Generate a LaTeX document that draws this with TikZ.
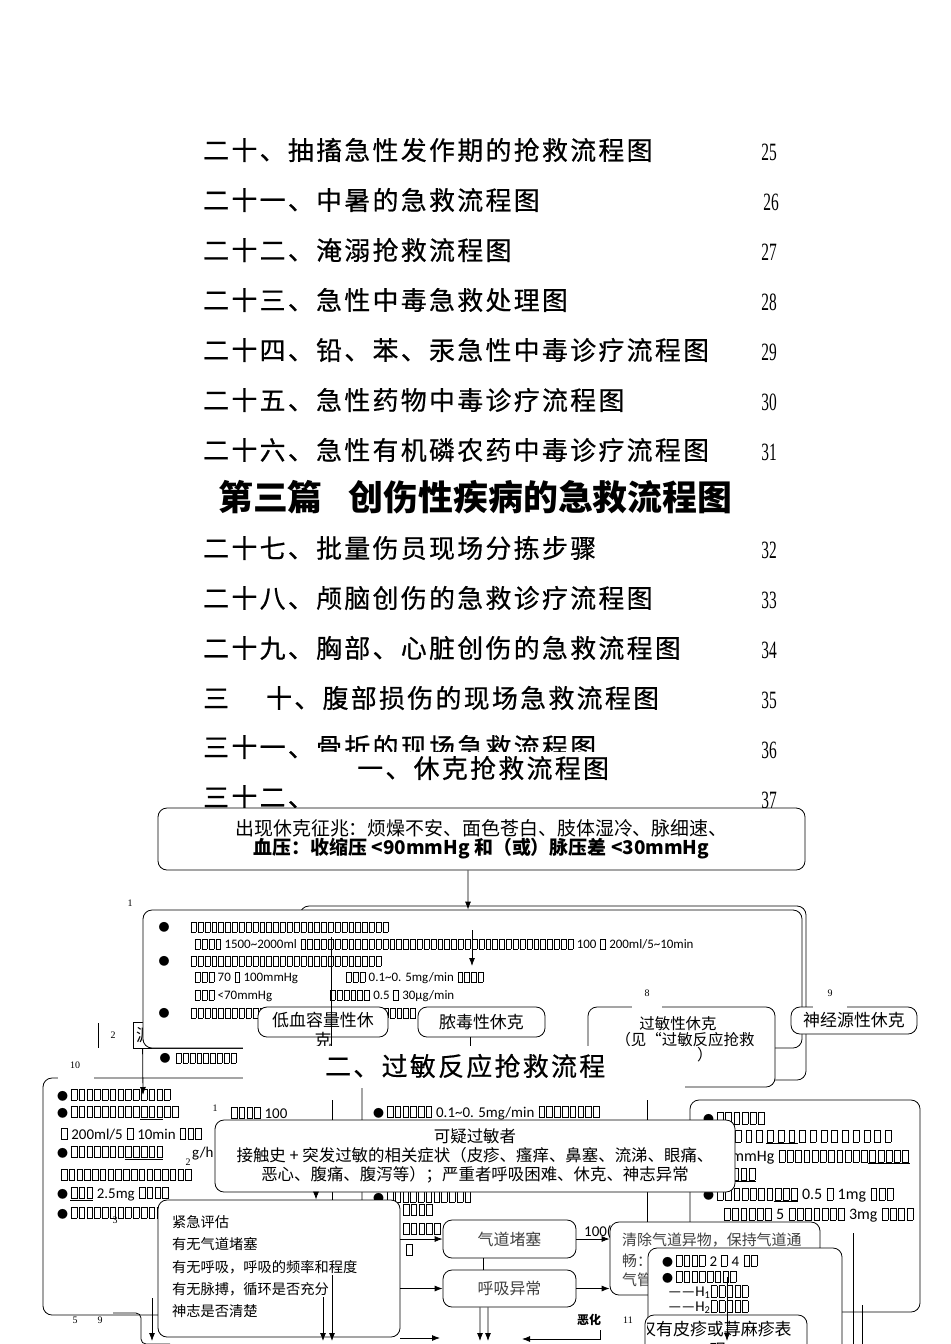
\documentclass[tikz,border=0pt]{standalone}
\usepackage{fontspec}
\setmainfont{Noto Sans CJK SC}
\newfontfamily\cjk{Noto Sans CJK SC}
\newfontfamily\tocfont[LetterSpace=9,FakeBold=0.6]{Noto Sans CJK SC}
\newfontfamily\numfont[FakeStretch=0.62]{Liberation Serif}
\newfontfamily\latfont{Carlito}
\newfontfamily\lblfont{Liberation Serif}
\usetikzlibrary{arrows.meta}
\setlength\fboxsep{0pt}
\setlength\fboxrule{0.45pt}
% missing glyph boxes
\newcommand\tofu{\kern0.06em\fbox{\rule{0pt}{0.72em}\rule{0.34em}{0pt}}\kern0.06em}
\newcommand\tf[1]{\foreach \tfk in {1,...,#1}{\tofu}}
\newcommand\tfsp[1]{\foreach \tfk in {1,...,#1}{\tofu\hspace{2.5bp}}}
\newcommand\bul{{\cjk\fontsize{11}{11}\selectfont ●}\kern2bp}

\begin{document}
\begin{tikzpicture}[x=1bp, y=-1bp, >={Latex[length=8bp,width=6bp]},
  toc/.style={anchor=west, inner sep=0, font=\tocfont\fontsize{26}{30}\selectfont},
  pnum/.style={inner sep=0, font=\numfont\fontsize{25}{28}\selectfont},
  rbox/.style={draw, fill=white, rounded corners=9bp, line width=0.8bp, inner sep=0},
  tline/.style={anchor=west, inner sep=0, font=\latfont\fontsize{13}{15}\selectfont},
  bline/.style={anchor=west, inner sep=0, font=\latfont\fontsize{15}{17}\selectfont},
  oline/.style={anchor=west, inner sep=0, font=\latfont\fontsize{16}{18}\selectfont},
  cjtext/.style={inner sep=0, font=\fontsize{17}{17}\selectfont},
  dot/.style={inner sep=0, font=\cjk\fontsize{11}{11}\selectfont},
  lbl/.style={inner sep=0, font=\lblfont\fontsize{10}{12}\selectfont},
  gapfill/.style={fill=white, inner sep=0},
  link/.style={line width=0.8bp},
  flow/.style={link, ->}]

\useasboundingbox (0,0) rectangle (950,1344);

% contents
\node[toc] (t20) at (203,150) {二十、抽搐急性发作期的抢救流程图};
\node[toc] (t21) at (203,200) {二十一、中暑的急救流程图};
\node[toc] (t22) at (203,250) {二十二、淹溺抢救流程图};
\node[toc] (t23) at (203,300) {二十三、急性中毒急救处理图};
\node[toc] (t24) at (203,350) {二十四、铅、苯、汞急性中毒诊疗流程图};
\node[toc] (t25) at (203,400) {二十五、急性药物中毒诊疗流程图};
\node[toc] (t26) at (203,450) {二十六、急性有机磷农药中毒诊疗流程图};
\node[anchor=west, inner sep=0, font=\bfseries\fontsize{35}{38}\selectfont] (part3) at (218,497) {第三篇\hspace{26bp}创伤性疾病的急救流程图};
\node[toc] (t27) at (203,548) {二十七、批量伤员现场分拣步骤};
\node[toc] (t28) at (203,598) {二十八、颅脑创伤的急救诊疗流程图};
\node[toc] (t29) at (203,648) {二十九、胸部、心脏创伤的急救流程图};
\node[toc] (t30) at (203,698) {三\hspace{37bp}十、腹部损伤的现场急救流程图};
\node[toc] (t31) at (203,747) {三十一、骨折的现场急救流程图};
\node[toc] (t32) at (203,797) {三十二、};
\node[pnum] (p20) at (769,152) {25};
\node[pnum] (p21) at (771,202) {26};
\node[pnum] (p22) at (769,252) {27};
\node[pnum] (p23) at (769,302) {28};
\node[pnum] (p24) at (769,352) {29};
\node[pnum] (p25) at (769,402) {30};
\node[pnum] (p26) at (769,452) {31};
\node[pnum] (p27) at (769,550) {32};
\node[pnum] (p28) at (769,600) {33};
\node[pnum] (p29) at (769,650) {34};
\node[pnum] (p30) at (769,700) {35};
\node[pnum] (p31) at (769,750) {36};
\node[pnum] (p32) at (769,800) {37};

% shock chart
\node[gapfill, minimum width=435bp, minimum height=36bp] (t1bg) at (527,770) {};
\node[toc] (title1) at (357,768) {一、休克抢救流程图};
\node[rbox, minimum width=647bp, minimum height=62bp, align=center, font=\fontsize{19}{18}\selectfont] (sign) at (481.5,839) {出现休克征兆：烦燥不安、面色苍白、肢体湿冷、脉细速、\\\bfseries 血压：收缩压 <90mmHg 和（或）脉压差 <30mmHg};
\node[lbl] (l1) at (130,903) {1};
\node[rbox, minimum width=506bp, minimum height=174bp] (shockbg) at (553,993) {};
\node[draw, link, fill=white, minimum width=167bp, minimum height=26bp, anchor=west] (src) at (133,1035) {};
\node[cjtext, anchor=west] (srct) at (136,1035) {源};
\node[rbox, minimum width=659bp, minimum height=138bp] (shock) at (472.5,979) {};
\draw[flow] ([xshift=-13.5bp]sign.south) -- ([xshift=-4.5bp]shock.north);

\node[dot] (eb1) at (164,927) {●};
\node[tline] (e1) at (190,927) {\tf{29}};
\node[tline] (e2) at (194,944) {\tf{4} 1500\textasciitilde2000ml \tf{40} 100 \tf{1} 200ml/5\textasciitilde10min};
\node[dot] (eb2) at (164,961) {●};
\node[tline] (e3) at (190,961) {\tf{28}};
\node[tline] (e4) at (194,978) {\tf{3} 70 \tf{1} 100mmHg};
\node[tline] (e4b) at (345,978) {\tf{3} 0.1\textasciitilde0. 5mg/min \tf{4}};
\node[tline] (e5) at (194,996) {\tf{3} <70mmHg};
\node[tline] (e5b) at (329,996) {\tf{6} 0.5 \tf{1} 30µg/min};
\node[dot] (eb3) at (164,1013) {●};
\node[tline] (e6) at (190,1013) {\tf{33}};

\node[rbox, minimum width=130bp, minimum height=30bp] (hypo) at (323,1022) {};
\node[cjtext] (hypot) at (323,1020) {低血容量性休};
\node[cjtext] (hypok) at (323,1040) {克};
\node[rbox, minimum width=127bp, minimum height=30bp, font=\fontsize{17}{17}\selectfont] (septic) at (481.5,1022) {脓毒性休克};
\node[rbox, minimum width=187bp, minimum height=80bp] (anaph) at (681.5,1047) {};
\node[inner sep=0, font=\fontsize{15.5}{16}\selectfont] (anapht) at (678,1024) {过敏性休克};
\node[inner sep=0, font=\fontsize{15.5}{16}\selectfont] (anaphs) at (685,1040) {（见“过敏反应抢救};
\node[inner sep=0, font=\fontsize{15.5}{16}\selectfont] (anaphe) at (697,1055) {’）};
\node[rbox, minimum width=126bp, minimum height=27bp, font=\fontsize{17}{17}\selectfont] (neuro) at (854,1020.5) {神经源性休克};
\node[gapfill, minimum width=30bp, minimum height=4bp] (g8) at (647,1007) {};
\node[lbl] (l8) at (647,993) {8};
\node[gapfill, minimum width=34bp, minimum height=4bp] (g9) at (830,1007) {};
\node[lbl] (l9) at (830,993) {9};

\coordinate (v1a) at (331,937);
\coordinate (v1b) at (331,1046);
\draw[link] (v1a) -- (v1b);
\coordinate (v2a) at (472,930);
\coordinate (v2b) at (472,966);
\draw[flow] (v2a) -- (v2b);
\coordinate (v3b) at (470,1046);
\draw[link] (septic.south -| v3b) -- (v3b);
\coordinate (v4a) at (98,1023);
\coordinate (v4b) at (98,1048);
\draw[link] (v4a) -- (v4b);
\node[lbl] (l2) at (113,1035) {2};
\node[dot] (rb0) at (165,1058) {●};
\node[tline] (r0) at (175,1058) {\tf{9}};

% box 10
\node[rbox, minimum width=319bp, minimum height=237bp] (box10) at (202.5,1196.5) {};
\node[gapfill, minimum width=36bp, minimum height=4bp] (g10) at (76,1078) {};
\node[lbl] (l10) at (75,1065) {10};
\node[bline] (b1) at (57,1095) {\bul\tf{13}};
\node[bline] (b2) at (57,1113) {\bul\tf{9}\underline{\tf{3}}\tf{2}};
\node[bline] (b3) at (60,1134) {\tf{1} 200ml/5 \tf{1} 10min \tf{3}};
\node[bline] (b4) at (57,1153) {\bul\tf{7}\underline{\tf{5}}};
\node[bline] (b5) at (60,1175) {\tf{17}};
\node[bline] (b6) at (57,1194) {\bul\underline{\tf{3}} 2.5mg \tf{4}};
\node[bline] (b7) at (57,1213) {\bul\tf{12}};
\coordinate (v5b) at (143,1095);
\draw[flow] (shock.south west |- 0,1048) -- (v5b);

\node[gapfill, minimum width=442bp, minimum height=42bp, anchor=north west] (t2bg) at (243,1046) {};
\node[toc] (title2) at (325,1066) {二、过敏反应抢救流程};

% allergy chart
\node[lbl] (l1b) at (215,1108) {1};
\node[bline] (c1) at (230,1113) {\tf{4} 100};
\node[bline] (c2) at (373,1113) {\bul\tf{6} 0.1\textasciitilde0. 5mg/min \tf{8}};
\coordinate (v6a) at (332,1100);
\coordinate (v6b) at (332,1200);
\draw[link] (v6a) -- (v6b);
\coordinate (v7a) at (647,1100);
\coordinate (v7b) at (647,1222);
\draw[link] (v7a) -- (v7b);
\node[bline] (c3) at (373,1197) {\bul\tf{11}};
\node[bline] (c4) at (402,1210) {\tf{4}};
\node[bline] (c5) at (402,1229) {\tf{5}};
\node[bline] (c6) at (405,1250) {\tf{1}};

\node[rbox, minimum width=230bp, minimum height=212bp] (boxO) at (805,1206) {};
\node[oline] (o1) at (703,1118) {\bul\tf{6}};
\node[oline] (o2) at (723,1137) {\tfsp{4}\underline{\tfsp{3}}\tfsp{9}};
\node[oline] (o3) at (723,1157) {\tf{1}mmHg \tf{11}\underline{\tf{5}}};
\node[oline] (o4) at (723,1175) {\underline{\tf{4}}};
\node[oline] (o5) at (703,1195) {\bul\tf{7}\underline{\tf{3}} 0.5 \tf{1} 1mg \tf{3}};
\node[oline] (o6) at (723,1215) {\tf{6} 5 \tf{7} 3mg \tf{4}};
\coordinate (v8a) at (853,1233);
\coordinate (v8b) at (853,1344);
\draw[link] (v8a) -- (v8b);
\coordinate (v9a) at (862,1305);
\coordinate (v9b) at (862,1344);
\draw[link] (v9a) -- (v9b);

\node[bline] (gh) at (192,1154) {g/h};
\node[rbox, minimum width=520bp, minimum height=72bp, align=center, font=\fontsize{16.5}{19}\selectfont] (suspect) at (475,1156) {可疑过敏者\\接触史 + 突发过敏的相关症状（皮疹、瘙痒、鼻塞、流涕、眼痛、\\恶心、腹痛、腹泻等）；严重者呼吸困难、休克、神志异常};
\node[lbl] (l2b) at (188,1162) {2};
\node[lbl] (l3) at (115,1220) {3};

\node[rbox, minimum width=242bp, minimum height=137bp] (assess) at (279,1268.5) {};
\node[anchor=west, inner sep=0, font=\fontsize{14.3}{15}\selectfont] (a1) at (172,1222) {紧急评估};
\node[anchor=west, inner sep=0, font=\fontsize{14.3}{15}\selectfont] (a2) at (172,1244) {有无气道堵塞};
\node[anchor=west, inner sep=0, font=\fontsize{14.3}{15}\selectfont] (a3) at (172,1267) {有无呼吸，呼吸的频率和程度};
\node[anchor=west, inner sep=0, font=\fontsize{14.3}{15}\selectfont] (a4) at (172,1289) {有无脉搏，循环是否充分};
\node[anchor=west, inner sep=0, font=\fontsize{14.3}{15}\selectfont] (a5) at (172,1311) {神志是否清楚};
\draw[flow] ([xshift=-159bp]suspect.south) -- ([xshift=37bp]assess.north);

\node[rbox, minimum width=133bp, minimum height=38bp, text=black!75, font=\fontsize{16}{16}\selectfont] (airway) at (509.5,1239) {气道堵塞};
\node[rbox, minimum width=133bp, minimum height=37bp, text=black!75, font=\fontsize{16}{16}\selectfont] (breath) at (509.5,1288.5) {呼吸异常};
\draw[flow] (assess.east |- airway.west) -- (airway.west);
\draw[flow] (assess.east |- breath.west) -- (breath.west);
\coordinate (lowr) at (440,1338);
\draw[flow] (assess.east |- lowr) -- (lowr);
\draw[link] ([xshift=-26.5bp]airway.south) -- ([xshift=-26.5bp]breath.north);
\node[bline] (hund) at (584,1232) {100(};

\node[rbox, minimum width=210bp, minimum height=73bp] (clear) at (715,1258.5) {};
\node[anchor=west, inner sep=0, text=black!75, font=\fontsize{15}{15}\selectfont] (cl1) at (622,1240) {清除气道异物，保持气道通};
\node[anchor=west, inner sep=0, text=black!75, font=\fontsize{15}{15}\selectfont] (cl2) at (622,1261) {畅：};
\node[anchor=west, inner sep=0, text=black!75, font=\fontsize{15}{15}\selectfont] (cl3) at (622,1280) {气管};
\draw[flow] (airway.east) -- (airway.east -| clear.west);
\draw[flow] (breath.east) -- (breath.east -| clear.west);

\node[rbox, minimum width=194bp, minimum height=122bp] (drug) at (745,1309) {};
\node[bline] (d1) at (662,1261) {\bul\tf{4} 2 \tf{1} 4 \tf{2}};
\node[bline] (d2) at (662,1277) {\bul\tf{8}};
\node[bline] (d3) at (668,1292) {——H\textsubscript{1}\tf{5}};
\node[bline] (d4) at (668,1307) {——H\textsubscript{2}\tf{5}};

\node[rbox, minimum width=162bp, minimum height=55bp] (rash) at (726,1342.5) {};
\begin{scope}
  \clip (647,1300) rectangle (812,1344);
  \node[anchor=west, inner sep=0, font=\fontsize{17}{17}\selectfont] (rasht) at (639,1329) {仅有皮疹或荨麻疹表};
  \node[inner sep=0, font=\fontsize{17}{17}\selectfont] (rashe) at (718,1350) {现};
\end{scope}
\coordinate (v10a) at (727,1277);
\coordinate (v10b) at (727,1341);
\draw[flow] (v10a) -- (v10b);

% bottom edge
\coordinate (bot1) at (480,1341);
\coordinate (bot2) at (488,1341);
\draw[flow] ([xshift=-29.5bp]breath.south) -- (bot1);
\draw[flow] ([xshift=-21.5bp]breath.south) -- (bot2);
\coordinate (bot3a) at (323,1297);
\coordinate (bot3b) at (323,1341);
\draw[flow] (bot3a) -- (bot3b);
\coordinate (bot4a) at (332,1275);
\coordinate (bot4b) at (332,1341);
\draw[flow] (bot4a) -- (bot4b);
\coordinate (bot5a) at (152,1298);
\coordinate (bot5b) at (152,1341);
\draw[flow] (bot5a) -- (bot5b);
\coordinate (bot6a) at (113,1313);
\coordinate (bot6b) at (170,1344);
\draw[link, rounded corners=5bp] (bot6a) -- (bot6a -| 141,0) -- (141,1344) -- (bot6b);
\coordinate (bot7a) at (600,1330);
\coordinate (bot7b) at (522,1339);
\draw[flow] (bot7a) -- (bot7a |- bot7b) -- (bot7b);
\node[inner sep=0, font=\bfseries\fontsize{12}{12}\selectfont] (worse) at (589,1320) {恶化};
\node[lbl] (l11) at (628,1320) {11};
\node[lbl] (l5) at (75,1320) {5};
\node[lbl] (l9b) at (100,1320) {9};
\end{tikzpicture}
\end{document}
